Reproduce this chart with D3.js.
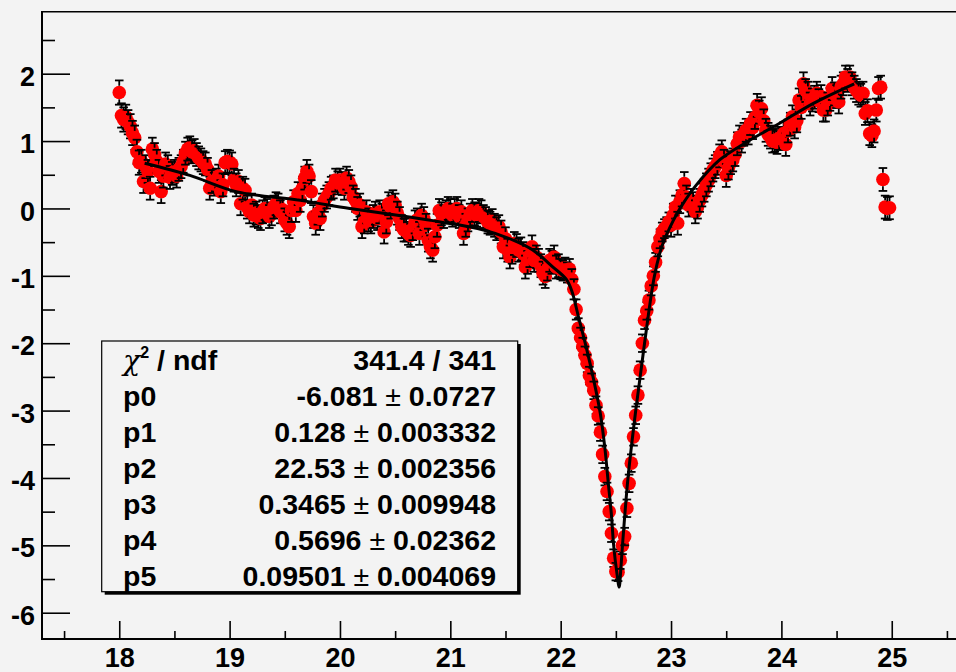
<!DOCTYPE html>
<html><head><meta charset="utf-8">
<script src="https://cdn.jsdelivr.net/npm/d3@7"></script>
<style>html,body{margin:0;padding:0;background:#f3f3f3;overflow:hidden}</style>
</head><body><svg id="c" width="956" height="672"></svg>
<script>
// ---------- data ----------
const xStart = 18.0;
const xStep = 0.02;
const values = [
 1.72, 1.38, 1.32, 1.36, 1.28, 1.22, 1.12, 1.05, 0.84, 0.68,
 0.70, 0.40, 0.62, 0.55, 0.30, 0.88, 0.80, 0.70, 0.55, 0.25,
 0.48, 0.66, 0.62, 0.46, 0.52, 0.55, 0.48, 0.58, 0.62, 0.70,
 0.82, 0.88, 0.90, 0.84, 0.86, 0.80, 0.75, 0.72, 0.68, 0.66,
 0.58, 0.30, 0.40, 0.36, 0.42, 0.48, 0.25, 0.35, 0.68, 0.70,
 0.69, 0.66, 0.42, 0.35, 0.40, 0.07, 0.30, 0.27, 0.02, -0.05,
 0.05, -0.10, -0.07, -0.12, -0.15, -0.05, 0.00, -0.03, -0.12, -0.08,
 0.02, 0.07, 0.05, -0.05, -0.02, -0.17, -0.22, -0.27, -0.03, 0.10,
 -0.03, 0.22, 0.12, 0.30, 0.45, 0.55, 0.48, 0.25, -0.12, -0.22,
 -0.07, -0.15, 0.05, 0.12, 0.17, 0.22, 0.30, 0.32, 0.42, 0.38,
 0.42, 0.37, 0.30, 0.45, 0.40, 0.32, 0.17, 0.12, 0.00, 0.05,
 -0.27, -0.20, -0.05, -0.17, -0.20, -0.12, -0.07, -0.15, -0.05, -0.10,
 -0.35, -0.20, 0.07, 0.02, 0.10, 0.05, -0.07, -0.15, -0.27, -0.32,
 -0.32, -0.37, -0.40, -0.30, -0.20, -0.17, -0.37, -0.10, -0.15, -0.25,
 -0.47, -0.57, -0.62, -0.42, -0.25, -0.03, -0.08, -0.12, -0.05, 0.00,
 -0.03, -0.10, -0.03, 0.00, -0.12, -0.05, -0.37, -0.25, -0.17, -0.10,
 -0.03, -0.08, -0.10, -0.03, -0.05, -0.12, -0.15, -0.20, -0.22, -0.18,
 -0.25, -0.30, -0.27, -0.35, -0.57, -0.45, -0.62, -0.72, -0.65, -0.52,
 -0.55, -0.62, -0.60, -0.67, -0.87, -0.80, -0.70, -0.57, -0.77, -0.72,
 -0.77, -0.85, -0.96, -1.01, -0.90, -0.77, -0.80, -0.72, -0.87, -0.85,
 -0.90, -0.92, -0.88, -0.95, -0.90, -1.05, -1.20, -1.50, -1.78, -1.92,
 -2.05, -2.18, -2.30, -2.48, -2.58, -2.70, -2.92, -3.08, -3.32, -3.65,
 -3.98, -4.20, -4.50, -4.82, -5.19, -5.39, -5.40, -5.22, -5.00, -4.87,
 -4.45, -4.08, -3.78, -3.39, -3.07, -2.77, -2.40, -2.00, -1.66, -1.52,
 -1.36, -1.15, -1.00, -0.80, -0.57, -0.45, -0.35, -0.30, -0.27, -0.20,
 -0.25, -0.10, 0.02, -0.22, 0.10, 0.20, 0.37, 0.17, 0.05, 0.12,
 0.07, -0.05, 0.02, 0.12, 0.20, 0.27, 0.35, 0.42, 0.50, 0.57,
 0.62, 0.67, 0.78, 0.84, 0.70, 0.49, 0.60, 0.68, 0.72, 0.80,
 0.96, 1.06, 1.00, 1.10, 1.16, 1.12, 1.26, 1.20, 1.35, 1.53,
 1.43, 1.48, 1.30, 1.16, 1.10, 1.06, 1.00, 1.01, 0.98, 1.04,
 1.04, 1.11, 0.95, 1.15, 1.25, 1.36, 1.21, 1.30, 1.61, 1.50,
 1.85, 1.75, 1.71, 1.55, 1.61, 1.65, 1.71, 1.60, 1.66, 1.46,
 1.46, 1.55, 1.62, 1.78, 1.70, 1.66, 1.58, 1.80, 1.85, 1.95,
 1.90, 1.95, 1.85, 1.80, 1.75, 1.71, 1.68, 1.71, 1.41, 1.45,
 1.11, 1.08, 1.15, 1.46, 1.78, 1.80, 0.43, 0.02, 0.00, 0.01
];
// error (half length) for each group of 10 consecutive points
const groupErrors = [
 0.18, 0.17, 0.17, 0.17, 0.17, 0.17, 0.17, 0.17, 0.17, 0.17,
 0.17, 0.17, 0.17, 0.17, 0.17, 0.17, 0.17, 0.17, 0.17, 0.17,
 0.15, 0.13, 0.13, 0.13, 0.14, 0.17, 0.17, 0.17, 0.17, 0.17,
 0.17, 0.17, 0.17, 0.17, 0.17
];
// fitted curve
const fitX = [18.23, 18.64, 19.06, 19.64, 20.09, 20.60, 20.91, 21.30, 21.57, 21.75, 21.93, 22.05, 22.10,
  22.16, 22.23, 22.30, 22.36, 22.40, 22.43, 22.46, 22.48, 22.51, 22.53, 22.545, 22.56, 22.61, 22.68,
  22.76, 22.85, 22.92, 23.02, 23.10, 23.23, 23.44, 23.68, 23.98, 24.29, 24.66];
const fitY = [0.67, 0.49, 0.25, 0.12, 0.00, -0.12, -0.20, -0.32, -0.47, -0.62, -0.87, -1.05, -1.22,
  -1.60, -2.05, -2.55, -3.05, -3.55, -4.05, -4.55, -5.00, -5.42, -5.62, -5.35, -5.00, -4.00, -3.00,
  -2.00, -1.00, -0.55, -0.18, 0.05, 0.35, 0.72, 0.98, 1.26, 1.56, 1.85];
const xTicks = [18, 19, 20, 21, 22, 23, 24, 25];
const xMinorTicks = [17.5, 18.5, 19.5, 20.5, 21.5, 22.5, 23.5, 24.5, 25.5];
const yTicks = [-6, -5, -4, -3, -2, -1, 0, 1, 2];
const yMinorTicks = [-5.5, -4.5, -3.5, -2.5, -1.5, -0.5, 0.5, 1.5, 2.5];
const statNames = ["p0", "p1", "p2", "p3", "p4", "p5"];
const statValues = ["-6.081", "0.128", "22.53", "0.3465", "0.5696", "0.09501"];
const statErrors = ["0.0727", "0.003332", "0.002356", "0.009948", "0.02362", "0.004069"];
const chi2Text = "341.4 / 341";

// ---------- drawing ----------
const svg = d3.select("#c");
const FONT = "'Liberation Sans', Arial, Helvetica, sans-serif";
svg.append("rect").attr("width", 956).attr("height", 672).attr("fill", "#f3f3f3");

const x = d3.scaleLinear().domain([17.3, 25.7]).range([42, 969]);
const y = d3.scaleLinear().domain([-6.39, 2.92]).range([639, 11.7]);
const fmt = d => String(d);

// frame
svg.append("line").attr("x1", 42).attr("x2", 970).attr("y1", 11.7).attr("y2", 11.7)
  .attr("stroke", "#000").attr("stroke-width", 1.5);

// Y axis
const yAx = svg.append("g").attr("transform", "translate(42,0)")
  .call(d3.axisLeft(y).tickValues(yTicks).tickSizeInner(-28).tickSizeOuter(0).tickPadding(7).tickFormat(fmt));
svg.append("g").attr("transform", "translate(42,0)")
  .call(d3.axisLeft(y).tickValues(yMinorTicks).tickSizeInner(-13).tickSizeOuter(0).tickFormat(""))
  .select(".domain").remove();
yAx.select(".domain").remove();
// X axis
const xAx = svg.append("g").attr("transform", "translate(0,639)")
  .call(d3.axisBottom(x).tickValues(xTicks).tickSizeInner(-18).tickSizeOuter(0).tickPadding(9).tickFormat(fmt));
svg.append("g").attr("transform", "translate(0,639)")
  .call(d3.axisBottom(x).tickValues(xMinorTicks).tickSizeInner(-8).tickSizeOuter(0).tickFormat(""))
  .select(".domain").remove();
xAx.select(".domain").remove();
svg.selectAll(".tick line").attr("stroke", "#000").attr("stroke-width", 1.6);
svg.selectAll(".tick text").attr("font-family", FONT).attr("font-weight", "bold")
  .attr("font-size", 27).attr("fill", "#000");
yAx.selectAll(".tick text").attr("dy", "0.43em");
xAx.selectAll(".tick text").attr("dy", "0.71em");

svg.append("line").attr("x1", 42).attr("x2", 42).attr("y1", 11).attr("y2", 640)
  .attr("stroke", "#000").attr("stroke-width", 2);
svg.append("line").attr("x1", 41).attr("x2", 970).attr("y1", 639).attr("y2", 639)
  .attr("stroke", "#000").attr("stroke-width", 2);

// data points with error bars
const pts = values.map((v, i) => ({ x: xStart + i * xStep, y: v, e: groupErrors[Math.floor(i / 10)] }));
const R = 6.8, CAP = 4.3;
const gp = svg.append("g");
pts.forEach(p => {
  const cx = x(p.x), cy = y(p.y);
  const top = y(p.y + p.e), bot = y(p.y - p.e);
  gp.append("circle").attr("cx", cx).attr("cy", cy).attr("r", R).attr("fill", "#ff0000");
  const g = gp.append("g").attr("stroke", "#000").attr("stroke-width", 1.8);
  if (cy - top > R) {
    g.append("line").attr("x1", cx).attr("x2", cx).attr("y1", cy - R).attr("y2", top);
    g.append("line").attr("x1", cx - CAP).attr("x2", cx + CAP).attr("y1", top).attr("y2", top);
  }
  if (bot - cy > R) {
    g.append("line").attr("x1", cx).attr("x2", cx).attr("y1", cy + R).attr("y2", bot);
    g.append("line").attr("x1", cx - CAP).attr("x2", cx + CAP).attr("y1", bot).attr("y2", bot);
  }
});

// fit curve
const fitPts = fitX.map((v, i) => [v, fitY[i]]);
svg.append("path").datum(fitPts)
  .attr("d", d3.line().x(d => x(d[0])).y(d => y(d[1])).curve(d3.curveCatmullRom.alpha(0.5)))
  .attr("fill", "none").attr("stroke", "#000").attr("stroke-width", 3);

// stats box
const bx = 101.7, by = 341, bw = 416, bh = 250.7;
svg.append("rect").attr("x", bx + 3).attr("y", by + 3).attr("width", bw).attr("height", bh).attr("fill", "#000");
svg.append("rect").attr("x", bx).attr("y", by).attr("width", bw).attr("height", bh)
  .attr("fill", "#f3f3f3").attr("stroke", "#000").attr("stroke-width", 1.2);
const st = svg.append("g").attr("font-family", FONT).attr("font-weight", "bold").attr("font-size", 28.5).attr("fill", "#000");
const base0 = 369.5, rowH = 36.1, leftX = 123, rightX = 496;
const t0 = st.append("text").attr("x", leftX).attr("y", base0);
t0.append("tspan").attr("font-family", "'DejaVu Serif', 'Liberation Serif', serif").attr("font-weight", "normal").attr("font-style", "italic").text("χ");
t0.append("tspan").attr("font-size", 16).attr("dy", -12).text("2");
t0.append("tspan").attr("dy", 12).text(" / ndf");
st.append("text").attr("x", rightX).attr("y", base0).attr("text-anchor", "end").text(chi2Text);
statNames.forEach((n, i) => {
  const yy = base0 + rowH * (i + 1);
  st.append("text").attr("x", leftX).attr("y", yy).text(n);
  const t = st.append("text").attr("x", rightX).attr("y", yy).attr("text-anchor", "end");
  t.append("tspan").text(statValues[i] + " ");
  t.append("tspan").attr("font-weight", "normal").text("±");
  t.append("tspan").text(" " + statErrors[i]);
});
</script></body></html>
